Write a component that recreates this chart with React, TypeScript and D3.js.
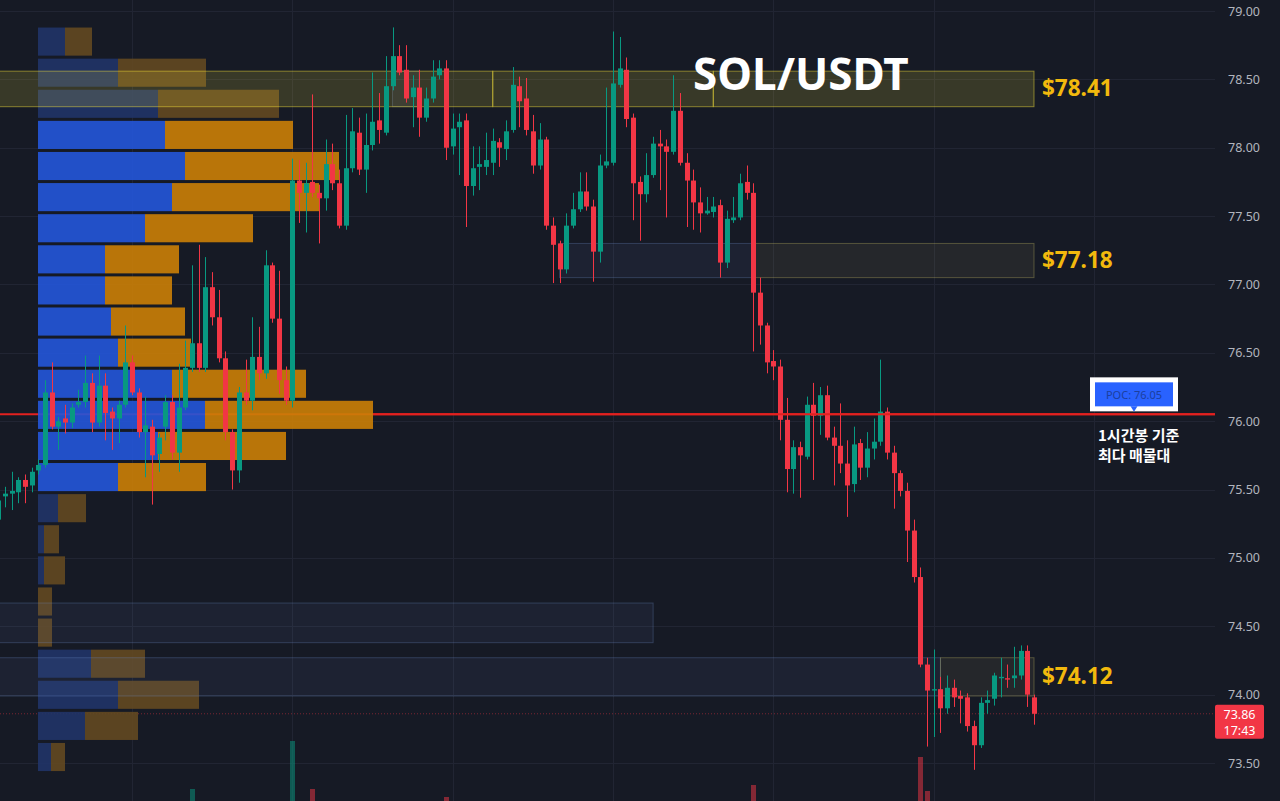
import React, { useEffect, useRef } from "react";
import * as d3 from "d3";

// SOL/USDT 1h candles, oldest first
const opens = [
  75.28, 75.45, 75.47, 75.48, 75.57, 75.53, 75.64, 75.68, 76.21, 75.96,
  76.02, 75.99, 76.12, 76.14, 76.28, 75.99, 76.26, 76.07, 76.02, 76.12,
  76.43, 76.21, 75.92, 75.96, 75.76, 75.96, 76.14, 75.77, 76.10, 76.39,
  76.57, 76.39, 76.98, 76.76, 76.46, 75.92, 75.64, 76.21, 76.15, 76.47,
  76.35, 77.14, 76.75, 76.30, 76.15, 77.76, 77.67, 77.75, 77.67, 77.63,
  77.88, 77.74, 77.43, 77.85, 78.11, 77.84, 78.02, 78.20, 78.11, 78.45,
  78.67, 78.57, 78.37, 78.44, 78.22, 78.36, 78.53, 78.58, 78.01, 78.15,
  78.20, 77.72, 77.86, 77.86, 77.89, 78.04, 77.99, 78.13, 78.45, 78.36,
  78.12, 77.87, 78.06, 77.43, 77.30, 77.11, 77.43, 77.55, 77.68, 77.57,
  77.24, 77.87, 77.89, 78.46, 78.57, 78.22, 77.75, 77.66, 77.80, 78.03,
  78.01, 77.97, 78.27, 77.89, 77.76, 77.60, 77.52, 77.53, 77.58, 77.16,
  77.47, 77.49, 77.75, 77.67, 76.94, 76.70, 76.44, 76.40, 76.01, 75.65,
  75.81, 75.74, 76.12, 76.04, 76.19, 75.88, 75.82, 75.69, 75.54, 75.84,
  75.66, 75.80, 75.85, 76.07, 75.77, 75.62, 75.49, 75.20, 74.86, 74.22,
  74.03, 74.04, 73.90, 74.05, 73.99, 73.98, 73.77, 73.63, 73.94, 73.97,
  74.12, 74.12, 74.12, 74.14, 74.32, 73.98,
];
const highs = [
  75.46, 75.52, 75.63, 75.59, 75.61, 75.66, 75.72, 76.30, 76.43, 76.03,
  76.12, 76.13, 76.23, 76.48, 76.35, 76.48, 76.35, 76.10, 76.15, 76.70,
  76.48, 76.24, 76.18, 76.01, 75.91, 76.19, 76.19, 76.42, 76.59, 77.14,
  77.29, 77.20, 77.09, 76.96, 76.51, 75.94, 76.25, 76.45, 76.76, 76.69,
  77.25, 77.16, 77.10, 76.40, 77.92, 77.91, 77.89, 78.39, 77.73, 78.06,
  78.03, 77.84, 78.24, 78.29, 78.22, 78.25, 78.55, 78.40, 78.67, 78.88,
  78.75, 78.75, 78.53, 78.57, 78.44, 78.64, 78.64, 78.64, 78.25, 78.25,
  78.25, 78.01, 78.01, 78.11, 78.14, 78.07, 78.20, 78.59, 78.52, 78.51,
  78.24, 78.18, 78.08, 77.49, 77.32, 77.52, 77.67, 77.82, 77.82, 77.62,
  77.95, 78.44, 78.85, 78.81, 78.66, 78.25, 77.79, 77.96, 78.08, 78.13,
  78.06, 78.53, 78.40, 77.96, 77.84, 77.71, 77.64, 77.64, 77.62, 77.54,
  77.64, 77.81, 77.87, 77.74, 77.05, 76.72, 76.52, 76.45, 76.17, 75.86,
  75.85, 76.18, 76.28, 76.25, 76.26, 75.96, 76.13, 75.86, 75.96, 75.87,
  75.92, 76.02, 76.45, 76.10, 75.82, 75.64, 75.55, 75.28, 74.93, 74.27,
  74.33, 74.13, 74.14, 74.11, 74.03, 74.01, 73.81, 73.98, 74.03, 74.16,
  74.27, 74.22, 74.35, 74.36, 74.36, 74.00,
];
const lows = [
  75.20, 75.37, 75.35, 75.40, 75.40, 75.48, 75.61, 75.66, 75.94, 75.79,
  75.91, 75.95, 76.10, 76.10, 75.92, 75.96, 75.86, 75.79, 75.84, 76.10,
  76.19, 75.88, 75.59, 75.39, 75.63, 75.86, 75.72, 75.63, 76.08, 76.36,
  76.36, 76.36, 76.70, 76.43, 75.86, 75.50, 75.55, 76.12, 76.08, 76.30,
  76.31, 76.72, 76.20, 76.12, 76.10, 77.45, 77.38, 77.64, 77.30, 77.54,
  77.69, 77.41, 77.40, 77.82, 77.80, 77.67, 77.98, 78.03, 78.09, 78.42,
  78.53, 78.33, 78.15, 78.08, 78.19, 78.33, 78.50, 77.91, 77.95, 77.80,
  77.42, 77.65, 77.69, 77.80, 77.80, 77.86, 77.91, 78.11, 78.15, 78.09,
  77.81, 77.84, 77.40, 77.01, 77.01, 77.08, 77.41, 77.53, 77.54, 77.02,
  77.16, 77.85, 77.87, 78.44, 78.15, 77.47, 77.32, 77.60, 77.78, 77.69,
  77.49, 77.95, 77.87, 77.42, 77.40, 77.38, 77.51, 77.49, 77.05, 77.12,
  77.45, 77.47, 77.62, 76.51, 76.56, 76.35, 76.30, 75.86, 75.48, 75.47,
  75.44, 75.72, 75.57, 75.90, 75.86, 75.53, 75.62, 75.30, 75.48, 75.57,
  75.59, 75.72, 75.82, 75.72, 75.36, 75.45, 74.97, 74.82, 74.20, 73.62,
  73.69, 73.72, 73.86, 73.91, 73.79, 73.73, 73.45, 73.61, 73.86, 73.92,
  73.98, 74.05, 74.05, 74.11, 73.91, 73.78,
];
const closes = [
  75.42, 75.47, 75.49, 75.57, 75.52, 75.63, 75.68, 76.21, 75.96, 76.00,
  75.99, 76.10, 76.14, 76.28, 75.99, 76.26, 76.06, 76.02, 76.12, 76.43,
  76.21, 75.92, 75.97, 75.75, 75.88, 76.14, 75.77, 76.10, 76.39, 76.57,
  76.39, 76.98, 76.76, 76.46, 75.92, 75.64, 76.21, 76.15, 76.47, 76.35,
  77.14, 76.75, 76.30, 76.15, 77.76, 77.67, 77.74, 77.67, 77.63, 77.88,
  77.74, 77.43, 77.85, 78.12, 77.84, 78.02, 78.19, 78.13, 78.45, 78.67,
  78.55, 78.36, 78.44, 78.22, 78.36, 78.52, 78.58, 78.00, 78.14, 78.19,
  77.72, 77.85, 77.88, 77.91, 78.05, 78.00, 78.12, 78.46, 78.34, 78.13,
  77.87, 78.06, 77.43, 77.29, 77.11, 77.43, 77.55, 77.68, 77.57, 77.24,
  77.87, 77.90, 78.47, 78.58, 78.21, 77.74, 77.66, 77.80, 78.03, 78.01,
  77.97, 78.27, 77.89, 77.76, 77.60, 77.52, 77.54, 77.57, 77.16, 77.48,
  77.49, 77.74, 77.67, 76.94, 76.70, 76.43, 76.40, 76.01, 75.65, 75.81,
  75.75, 76.12, 76.04, 76.19, 75.88, 75.82, 75.69, 75.53, 75.83, 75.66,
  75.80, 75.85, 76.07, 75.77, 75.62, 75.49, 75.20, 74.86, 74.22, 74.03,
  74.04, 73.90, 74.05, 73.98, 73.97, 73.77, 73.63, 73.94, 73.96, 74.14,
  74.13, 74.11, 74.14, 74.32, 74.00, 73.86,
];

// only the tallest volume bars reach into the visible part of the pane
const volumeIndex = [29, 44, 47, 67, 113, 138, 139];
const volumeValue = [56, 80, 56, 52, 58, 72, 55];

// volume profile, rows from the top price down
const profileHigh = 78.89;
const profileLow = 73.43;
const buyVolume = [27, 80, 120, 127, 147, 134, 107, 67, 67, 73, 80, 134, 167, 120, 80, 20, 6, 6, 0, 0, 53, 80, 47, 13];
const sellVolume = [27, 88, 121, 128, 154, 147, 108, 74, 67, 74, 73, 134, 168, 128, 88, 28, 15, 21, 14, 14, 54, 81, 53, 14];
const valueAreaFirst = 3;
const valueAreaLast = 14;
const pocPrice = 76.05;

// marked levels
const levelLabels = ["$78.41", "$77.18", "$74.12"];
const levelLow = [78.30, 77.05, 73.99];
const levelHigh = [78.56, 77.30, 74.27];
const levelStart = [0, 113, 141];
const topLevelBreaks = [74, 107];

// blue range boxes
const boxLow = [78.30, 77.05, 74.38, 73.99];
const boxHigh = [78.56, 77.30, 74.67, 74.27];
const boxStart = [59, 84, 0, 0];
const boxEnd = [63, 113, 98, 141];

const priceTicks = [79, 78.5, 78, 77.5, 77, 76.5, 76, 75.5, 75, 74.5, 74, 73.5];
const dayTicks = [20, 44, 68, 92, 116, 140, 164];
const lastTime = "17:43";

function App() {
  const chart = useRef<SVGSVGElement>(null);

  useEffect(() => {
    const width = 1280;
    const height = 801;
    const plotRight = 1215;
    const font = "'Noto Sans', 'DejaVu Sans', sans-serif";
    const up = "#089981";
    const down = "#f23645";

    const svg = d3.select(chart.current);
    svg.selectAll("*").remove();

    const last = opens.length - 1;
    const x = d3.scaleLinear().domain([0, last]).range([-1.7, 1034]);
    const y = d3.scaleLinear().domain([73.5, 79]).range([763, 11]);
    const vol = d3.scaleLinear().domain([0, 100]).range([height + 100, height - 100]);
    const candleW = 5;

    svg.append("rect").attr("width", width).attr("height", height).attr("fill", "#161a25");

    // grid
    const grid = svg.append("g").attr("stroke", "#212533").attr("stroke-width", 1);
    grid.selectAll(".hgrid").data(priceTicks).enter().append("line")
      .attr("x1", 0).attr("x2", plotRight)
      .attr("y1", d => Math.round(y(d)) + 0.5)
      .attr("y2", d => Math.round(y(d)) + 0.5);
    grid.selectAll(".vgrid").data(dayTicks).enter().append("line")
      .attr("x1", d => Math.round(x(d)) + 0.5)
      .attr("x2", d => Math.round(x(d)) + 0.5)
      .attr("y1", 0).attr("y2", height);

    // last price dotted line
    svg.append("line")
      .attr("x1", 0).attr("x2", plotRight)
      .attr("y1", y(closes[last])).attr("y2", y(closes[last]))
      .attr("stroke", down).attr("stroke-opacity", 0.45)
      .attr("stroke-dasharray", "1,2");

    // volume bars
    svg.selectAll(".vol").data(volumeIndex).enter().append("rect")
      .attr("x", d => Math.round(x(d)) + 0.5 - candleW / 2)
      .attr("width", candleW)
      .attr("y", (d, i) => vol(volumeValue[i]))
      .attr("height", (d, i) => vol(0) - vol(volumeValue[i]))
      .attr("fill", d => (closes[d] >= opens[d] ? up : down))
      .attr("fill-opacity", 0.5);

    // POC line (under the profile)
    svg.append("line")
      .attr("x1", 0).attr("x2", plotRight)
      .attr("y1", y(pocPrice)).attr("y2", y(pocPrice))
      .attr("stroke", "#e3211f").attr("stroke-width", 2);

    // volume profile
    const bin = (profileHigh - profileLow) / buyVolume.length;
    const maxTotal = d3.max(buyVolume.map((b, i) => b + sellVolume[i])) as number;
    const vx = d3.scaleLinear().domain([0, maxTotal]).range([38, 373]);
    const rows = buyVolume.map((b, i) => ({
      i,
      buy: b,
      sell: sellVolume[i],
      top: y(profileHigh - i * bin),
      bottom: y(profileHigh - (i + 1) * bin),
      bright: i >= valueAreaFirst && i <= valueAreaLast,
    }));
    const prof = svg.append("g").attr("fill-opacity", 0.9);
    prof.selectAll(".buy").data(rows).enter().append("rect")
      .attr("x", vx(0))
      .attr("y", d => d.top + 1.5)
      .attr("width", d => vx(d.buy) - vx(0))
      .attr("height", d => d.bottom - d.top - 3)
      .attr("fill", d => (d.bright ? "#2456da" : "#203468"));
    prof.selectAll(".sell").data(rows).enter().append("rect")
      .attr("x", d => vx(d.buy))
      .attr("y", d => d.top + 1.5)
      .attr("width", d => vx(d.buy + d.sell) - vx(d.buy))
      .attr("height", d => d.bottom - d.top - 3)
      .attr("fill", d => (d.bright ? "#cb7f07" : "#634921"));

    // blue range boxes
    svg.selectAll(".box").data(boxLow).enter().append("rect")
      .attr("x", (d, i) => x(boxStart[i]))
      .attr("width", (d, i) => x(boxEnd[i]) - x(boxStart[i]))
      .attr("y", (d, i) => y(boxHigh[i]))
      .attr("height", (d, i) => y(d) - y(boxHigh[i]))
      .attr("fill", "rgba(110,140,200,0.08)")
      .attr("stroke", "rgba(110,140,200,0.3)");

    // level zones
    const topSegments = [levelStart[0], ...topLevelBreaks, last];
    svg.selectAll(".topzone").data(topSegments.slice(0, -1)).enter().append("rect")
      .attr("x", d => x(d))
      .attr("width", (d, i) => x(topSegments[i + 1]) - x(d))
      .attr("y", y(levelHigh[0]))
      .attr("height", y(levelLow[0]) - y(levelHigh[0]))
      .attr("fill", "rgba(255,235,59,0.15)")
      .attr("stroke", "rgba(255,235,59,0.45)");
    svg.selectAll(".zone").data([1, 2]).enter().append("rect")
      .attr("x", d => x(levelStart[d]))
      .attr("width", d => x(last) - x(levelStart[d]))
      .attr("y", d => y(levelHigh[d]))
      .attr("height", d => y(levelLow[d]) - y(levelHigh[d]))
      .attr("fill", "rgba(220,205,110,0.08)")
      .attr("stroke", "rgba(220,205,110,0.3)");

    // candles
    const idx = d3.range(opens.length);
    const candles = svg.append("g");
    candles.selectAll(".wick").data(idx).enter().append("line")
      .attr("x1", d => Math.round(x(d)) + 0.5)
      .attr("x2", d => Math.round(x(d)) + 0.5)
      .attr("y1", d => y(highs[d]))
      .attr("y2", d => y(lows[d]))
      .attr("stroke", d => (closes[d] >= opens[d] ? up : down))
      .attr("stroke-width", 1);
    candles.selectAll(".body").data(idx).enter().append("rect")
      .attr("x", d => Math.round(x(d)) + 0.5 - candleW / 2)
      .attr("width", candleW)
      .attr("y", d => y(Math.max(opens[d], closes[d])))
      .attr("height", d => Math.max(1.2, Math.abs(y(opens[d]) - y(closes[d]))))
      .attr("fill", d => (closes[d] >= opens[d] ? up : down));

    // POC line on top, right of the profile
    svg.append("line")
      .attr("x1", vx(maxTotal)).attr("x2", plotRight)
      .attr("y1", y(pocPrice)).attr("y2", y(pocPrice))
      .attr("stroke", "#e3211f").attr("stroke-width", 2);

    // level labels
    svg.selectAll(".lvl").data(levelLabels).enter().append("text")
      .attr("x", x(last) + 8)
      .attr("y", (d, i) => y((levelLow[i] + levelHigh[i]) / 2) - 1.5)
      .attr("dominant-baseline", "central")
      .attr("font-family", font)
      .attr("font-weight", 700)
      .attr("font-size", 22.5)
      .attr("fill", "#f2b90d")
      .text(d => d);

    // title
    svg.append("text")
      .attr("x", 693).attr("y", 90)
      .attr("font-family", font)
      .attr("font-weight", 700)
      .attr("font-size", 44)
      .attr("fill", "#ffffff")
      .text("SOL/USDT");

    // price axis
    svg.selectAll(".tick").data(priceTicks).enter().append("text")
      .attr("x", 1260)
      .attr("y", d => y(d))
      .attr("text-anchor", "end")
      .attr("dominant-baseline", "central")
      .attr("font-family", font)
      .attr("font-size", 12.5)
      .attr("fill", "#b2b5be")
      .text(d => d.toFixed(2));

    // last price badge
    const ly = y(closes[last]);
    svg.append("rect")
      .attr("x", plotRight).attr("y", ly - 9)
      .attr("width", 49).attr("height", 34).attr("rx", 2)
      .attr("fill", down);
    svg.append("text")
      .attr("x", plotRight + 24.5).attr("y", ly + 0.5)
      .attr("text-anchor", "middle").attr("dominant-baseline", "central")
      .attr("font-family", font).attr("font-size", 12.5).attr("fill", "#ffffff")
      .text(closes[last].toFixed(2));
    svg.append("text")
      .attr("x", plotRight + 24.5).attr("y", ly + 16.5)
      .attr("text-anchor", "middle").attr("dominant-baseline", "central")
      .attr("font-family", font).attr("font-size", 12.5).attr("fill", "#ffffff")
      .text(lastTime);

    // POC badge
    const py = y(pocPrice);
    svg.append("rect")
      .attr("x", 1090).attr("y", py - 37)
      .attr("width", 88).attr("height", 34)
      .attr("fill", "#ffffff");
    svg.append("rect")
      .attr("x", 1095).attr("y", py - 32)
      .attr("width", 78).attr("height", 24)
      .attr("fill", "#2962ff");
    svg.append("path")
      .attr("d", `M1130.5,${py - 8} L1137.5,${py - 8} L1134,${py - 2.5} Z`)
      .attr("fill", "#2962ff");
    svg.append("text")
      .attr("x", 1134).attr("y", py - 20)
      .attr("text-anchor", "middle").attr("dominant-baseline", "central")
      .attr("font-family", font).attr("font-size", 11)
      .attr("fill", "#1c3f9e")
      .text(`POC: ${pocPrice.toFixed(2)}`);

    const note = svg.append("text")
      .attr("font-family", "'Noto Sans CJK KR', 'Noto Sans', sans-serif")
      .attr("font-weight", 700)
      .attr("font-size", 15)
      .attr("fill", "#ffffff");
    note.append("tspan").attr("x", 1098).attr("y", py + 27).text("1시간봉 기준");
    note.append("tspan").attr("x", 1098).attr("y", py + 47).text("최다 매물대");

    return () => {
      svg.selectAll("*").remove();
    };
  }, []);

  return (
    <svg
      ref={chart}
      width={1280}
      height={801}
      style={{ position: "absolute", left: 0, top: 0, display: "block" }}
    ></svg>
  );
}

export default App;
